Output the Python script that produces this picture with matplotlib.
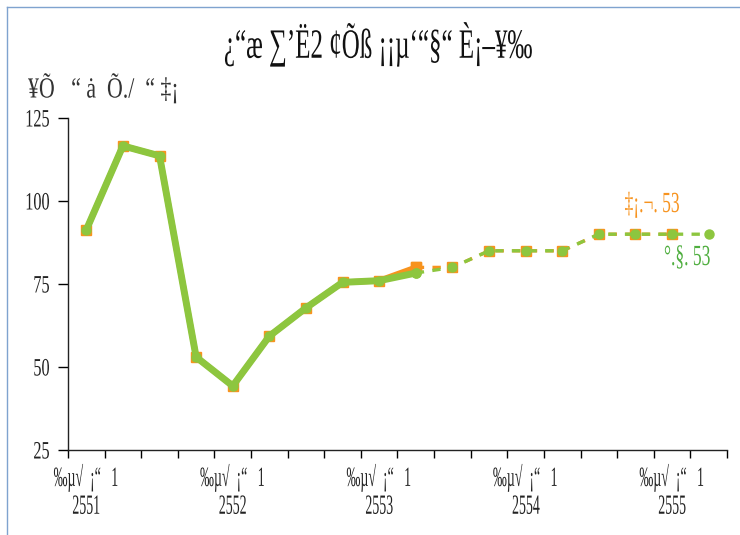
import matplotlib
matplotlib.use("Agg")
import matplotlib.pyplot as plt
from matplotlib.patheffects import AbstractPathEffect
from matplotlib.transforms import Affine2D
from matplotlib.lines import Line2D
import numpy as np

# ---------------- data ----------------
quarters = list(range(18))  # Q1 2551 .. Q2 2555
x_labels = ["‰µ√  ¡“   1\n2551", "‰µ√  ¡“   1\n2552", "‰µ√  ¡“   1\n2553",
            "‰µ√  ¡“   1\n2554", "‰µ√  ¡“   1\n2555"]
x_label_pos = [0, 4, 8, 12, 16]

actual = [91.3, 116.6, 113.6, 53.0, 44.3, 59.3, 67.8, 75.5, 76.0]
apr_last = 80.0            # orange (Apr 53) value at Q4 2553
jul_last = 78.3            # green (Jul 53) value at Q4 2553
apr_forecast = [80.0, 85.0, 85.0, 85.0, 90.0, 90.0, 90.0]
jul_forecast = [80.0, 85.0, 85.0, 85.0, 90.0, 90.0, 90.0, 90.0]

title_text = "¿“æ ∑’Ë2 ¢Õß ¡¡µ‘“§“ È¡–¥‰"
ylabel_text = "¥Õ   “ ȧ  Õ./  “ ‡¡"
apr_label = "‡¡.¬. 53"
jul_label = "°.§. 53"
yticks = [25, 50, 75, 100, 125]

ORANGE = "#f7931e"
GREEN = "#8dc63f"
FONT = "Liberation Serif"


class Squeeze(AbstractPathEffect):
    """Horizontally compress text (emulates a condensed font)."""
    def __init__(self, sx, anchor="center"):
        super().__init__()
        self.sx = sx
        self.anchor = anchor

    def draw_path(self, renderer, gc, tpath, affine, rgbFace=None):
        ext = tpath.get_extents(affine)
        if self.anchor == "center":
            x0 = (ext.x0 + ext.x1) / 2
        elif self.anchor == "left":
            x0 = ext.x0
        else:
            x0 = ext.x1
        t = affine + Affine2D().translate(-x0, 0).scale(self.sx, 1).translate(x0, 0)
        renderer.draw_path(gc, tpath, t, rgbFace)


fig = plt.figure(figsize=(7.40, 5.35), dpi=100)
ax = fig.add_axes([68 / 740, 1 - 450 / 535, (727 - 68) / 740, (450 - 118) / 535])

# figure border (top & left visible)
fig.add_artist(Line2D([7 / 740, 7 / 740], [0, 1 - 7 / 535], transform=fig.transFigure,
                      color="#7fa3cf", lw=1.0))
fig.add_artist(Line2D([7 / 740, 1], [1 - 7 / 535, 1 - 7 / 535], transform=fig.transFigure,
                      color="#7fa3cf", lw=1.0))

n_act = len(actual)
x_solid = quarters[:n_act + 1]
apr_solid = actual + [apr_last]
jul_solid = actual + [jul_last]

x_apr_dash = quarters[n_act:n_act + 1 + len(apr_forecast)]
apr_dash = [apr_last] + apr_forecast
x_jul_dash = quarters[n_act:n_act + 1 + len(jul_forecast)]
jul_dash = [jul_last] + jul_forecast

# orange series (Apr 53)
ax.plot(x_solid, apr_solid, color=ORANGE, lw=4.2, marker="s", ms=7,
        mfc=ORANGE, mec=ORANGE, zorder=2, solid_joinstyle="round")
ax.plot(x_apr_dash, apr_dash, color=ORANGE, lw=2.4, ls=(0, (2.5, 2.5)),
        marker="s", ms=7, mfc=ORANGE, mec=ORANGE, zorder=2)
# green series (Jul 53)
ax.plot(x_solid, jul_solid, color=GREEN, lw=5, marker="o", ms=6.5,
        mfc=GREEN, mec=GREEN, zorder=3, solid_joinstyle="round")
ax.plot(x_jul_dash, jul_dash, color=GREEN, lw=2.4, ls=(0, (2.5, 2.5)),
        marker="o", ms=6.5, mfc=GREEN, mec=GREEN, zorder=3)

ax.set_xlim(-0.5, 17.5)
ax.set_ylim(25, 125)
ax.set_yticks(yticks)
ax.set_xticks(np.arange(-0.5, 18, 1.0))
ax.set_xticklabels([])
ax.set_xticks(x_label_pos, minor=True)
ax.set_xticklabels(x_labels, minor=True)
ax.tick_params(axis="x", which="minor", length=0, pad=10)
ax.tick_params(axis="x", which="major", length=6, width=1, direction="out")
ax.tick_params(axis="y", length=7, width=1, direction="out", pad=6)

for s in ["top", "right"]:
    ax.spines[s].set_visible(False)
for s in ["left", "bottom"]:
    ax.spines[s].set_color("#222222")
    ax.spines[s].set_linewidth(1.0)

for lab in ax.get_yticklabels():
    lab.set_fontfamily(FONT)
    lab.set_fontsize(18)
    lab.set_color("#222222")
    lab.set_path_effects([Squeeze(0.65, "right")])
for lab in ax.get_xticklabels(minor=True):
    lab.set_fontfamily(FONT)
    lab.set_fontsize(20)
    lab.set_color("#222222")
    lab.set_linespacing(1.15)
    lab.set_path_effects([Squeeze(0.5, "center")])

fig.text(378 / 740, 1 - 44 / 535, title_text, ha="center", va="center",
         fontsize=30, family=FONT, color="#111111",
         path_effects=[Squeeze(0.6, "center")])
fig.text(28 / 740, 1 - 88 / 535, ylabel_text, ha="left", va="center",
         fontsize=21, family=FONT, color="#333333",
         path_effects=[Squeeze(0.75, "left")])

ax.annotate(apr_label, xy=(652 / 740, 1 - 205 / 535), xycoords="figure fraction",
            ha="center", va="center", fontsize=21, family=FONT, color=ORANGE,
            path_effects=[Squeeze(0.6, "center")])
ax.annotate(jul_label, xy=(687 / 740, 1 - 258 / 535), xycoords="figure fraction",
            ha="center", va="center", fontsize=21, family=FONT, color="#4fae3f",
            path_effects=[Squeeze(0.6, "center")])

fig.savefig("out.png", dpi=100, facecolor="white")
